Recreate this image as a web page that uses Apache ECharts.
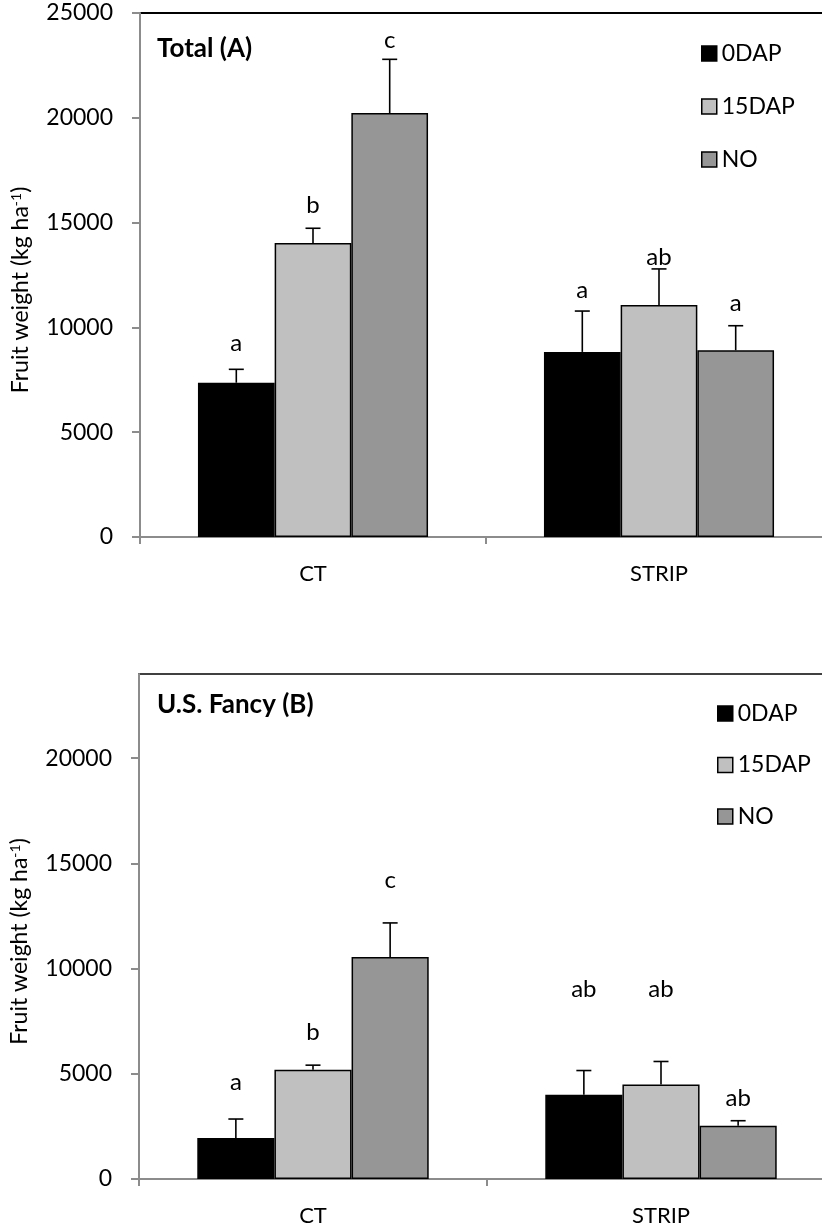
<!DOCTYPE html>
<html>
<head>
<meta charset="utf-8">
<script src="https://cdn.jsdelivr.net/npm/echarts@6/dist/echarts.min.js"></script>
<style>
  html, body { margin: 0; padding: 0; background: #fff; overflow: hidden; }
  #chart { width: 850px; height: 1230px; }
</style>
</head>
<body>
<div id="chart"></div>
<script>
// categories and treatments
const categories = ['CT', 'STRIP']
const treatments = ['0DAP', '15DAP', 'NO']
const yTicksTotal = [0, 5000, 10000, 15000, 20000, 25000]
const yTicksFancy = [0, 5000, 10000, 15000, 20000]

// Total (A): means per treatment, [CT, STRIP]
const total0DAP = [7360, 8830]
const total15DAP = [14030, 11070]
const totalNO = [20230, 8910]
const totalErr0DAP = [640, 1950]
const totalErr15DAP = [700, 1720]
const totalErrNO = [2560, 1170]
const totalLetters0DAP = ['a', 'a']
const totalLetters15DAP = ['b', 'ab']
const totalLettersNO = ['c', 'a']
const totalLetterY0DAP = [9260, 11780]
const totalLetterY15DAP = [15840, 13360]
const totalLetterYNO = [23700, 11160]

// U.S. Fancy (B)
const fancy0DAP = [1950, 4005]
const fancy15DAP = [5190, 4495]
const fancyNO = [10550, 2530]
const fancyErr0DAP = [900, 1150]
const fancyErr15DAP = [220, 1090]
const fancyErrNO = [1620, 240]
const fancyLetters0DAP = ['a', 'ab']
const fancyLetters15DAP = ['b', 'ab']
const fancyLettersNO = ['c', 'ab']
const fancyLetterY0DAP = [4575, 9000]
const fancyLetterY15DAP = [6950, 9000]
const fancyLetterYNO = [14220, 3860]

const colors = ['#000000', '#c0c0c0', '#969696']
const FONT = 'Lato, "Open Sans", sans-serif'
const CAT_GAP = 0.335

const chart = echarts.init(document.getElementById('chart'))

function barSeries(gridIdx, name, data, k) {
  return {
    name: name,
    type: 'bar',
    xAxisIndex: gridIdx,
    yAxisIndex: gridIdx,
    barGap: '0%',
    barCategoryGap: (CAT_GAP * 100) + '%',
    itemStyle: { color: colors[k], borderColor: '#000', borderWidth: 1.5 },
    data: data,
    z: 2
  }
}

function errSeries(gridIdx, means, errs, letters, letterY, k) {
  const data = means.map((m, i) => [i, m, errs[i], letterY[i]])
  return {
    type: 'custom',
    xAxisIndex: gridIdx,
    yAxisIndex: gridIdx,
    data: data,
    z: 3,
    silent: true,
    renderItem: function(params, api) {
      const band = api.size([1, 0])[0]
      const bw = band * (1 - CAT_GAP) / 3
      const idx = api.value(0)
      const cx = api.coord([idx, 0])[0] + (k - 1) * bw
      const yBar = api.coord([idx, api.value(1)])[1]
      const yTop = api.coord([idx, api.value(1) + api.value(2)])[1]
      const yLab = api.coord([idx, api.value(3)])[1]
      const lineStyle = { stroke: '#000', lineWidth: 1.6 }
      return {
        type: 'group',
        children: [
          { type: 'line', shape: { x1: cx, y1: yBar, x2: cx, y2: yTop }, style: lineStyle },
          { type: 'line', shape: { x1: cx - 7.5, y1: yTop, x2: cx + 7.5, y2: yTop }, style: lineStyle },
          {
            type: 'text',
            x: cx,
            y: yLab,
            style: {
              text: letters[idx],
              fill: '#000',
              font: '24px ' + FONT,
              align: 'center',
              verticalAlign: 'middle'
            }
          }
        ]
      }
    }
  }
}

const axisLineStyle = { color: '#8c8c8c', width: 2 }

function xAxis(gridIdx) {
  return {
    type: 'category',
    gridIndex: gridIdx,
    data: categories,
    axisLine: { lineStyle: axisLineStyle },
    axisTick: { show: true, length: 7, lineStyle: axisLineStyle },
    axisLabel: { color: '#000', fontSize: 22, fontFamily: FONT, margin: 26 }
  }
}

function yAxis(gridIdx, max, ticks) {
  return {
    type: 'value',
    gridIndex: gridIdx,
    min: 0,
    max: max,
    interval: 5000,
    name: '{n|Fruit weight (kg ha}{s|-1}{n|)}',
    nameLocation: 'middle',
    nameGap: 108,
    nameTextStyle: {
      padding: [0, 0, 0, -30],
      rich: {
        n: { fontSize: 23, fontFamily: FONT, color: '#000' },
        s: { fontSize: 14, fontFamily: FONT, color: '#000', verticalAlign: 'top', padding: [0, 0, 9, 0] }
      }
    },
    splitLine: { show: false },
    axisLine: { show: true, lineStyle: axisLineStyle },
    axisTick: { show: true, length: 8, lineStyle: axisLineStyle, customValues: ticks },
    axisLabel: {
      color: '#000', fontSize: 23, fontFamily: FONT, margin: 27, customValues: ticks,
      formatter: v => String(v)
    }
  }
}

function legend(left, top, gap) {
  return {
    orient: 'vertical',
    left: left,
    top: top,
    padding: 0,
    itemWidth: 15,
    itemHeight: 15,
    itemGap: gap,
    icon: 'rect',
    selectedMode: false,
    data: treatments,
    itemStyle: { borderColor: '#000', borderWidth: 1.5 },
    textStyle: { fontSize: 23, fontFamily: FONT, color: '#000', lineHeight: 20, padding: [0, 0, 0, 0] }
  }
}

chart.setOption({
  animation: false,
  title: [
    { text: 'Total (A)', left: 157, top: 36, padding: 0, textStyle: { fontSize: 26, fontWeight: 'bold', fontFamily: FONT, color: '#000' } },
    { text: 'U.S. Fancy (B)', left: 157, top: 692, padding: 0, textStyle: { fontSize: 26, fontWeight: 'bold', fontFamily: FONT, color: '#000' } }
  ],
  legend: [legend(701, 42, 30), legend(717, 702, 28.5)],
  grid: [
    { left: 140, top: 13, width: 692, height: 524, show: true, borderColor: '#000', borderWidth: 2, backgroundColor: 'transparent' },
    { left: 137, top: 674, width: 698, height: 505, show: true, borderColor: '#404040', borderWidth: 2, backgroundColor: 'transparent' }
  ],
  xAxis: [xAxis(0), xAxis(1)],
  yAxis: [yAxis(0, 25000, yTicksTotal), yAxis(1, 24000, yTicksFancy)],
  series: [
    barSeries(0, '0DAP', total0DAP, 0),
    barSeries(0, '15DAP', total15DAP, 1),
    barSeries(0, 'NO', totalNO, 2),
    barSeries(1, '0DAP', fancy0DAP, 0),
    barSeries(1, '15DAP', fancy15DAP, 1),
    barSeries(1, 'NO', fancyNO, 2),
    errSeries(0, total0DAP, totalErr0DAP, totalLetters0DAP, totalLetterY0DAP, 0),
    errSeries(0, total15DAP, totalErr15DAP, totalLetters15DAP, totalLetterY15DAP, 1),
    errSeries(0, totalNO, totalErrNO, totalLettersNO, totalLetterYNO, 2),
    errSeries(1, fancy0DAP, fancyErr0DAP, fancyLetters0DAP, fancyLetterY0DAP, 0),
    errSeries(1, fancy15DAP, fancyErr15DAP, fancyLetters15DAP, fancyLetterY15DAP, 1),
    errSeries(1, fancyNO, fancyErrNO, fancyLettersNO, fancyLetterYNO, 2)
  ]
})
</script>
</body>
</html>
